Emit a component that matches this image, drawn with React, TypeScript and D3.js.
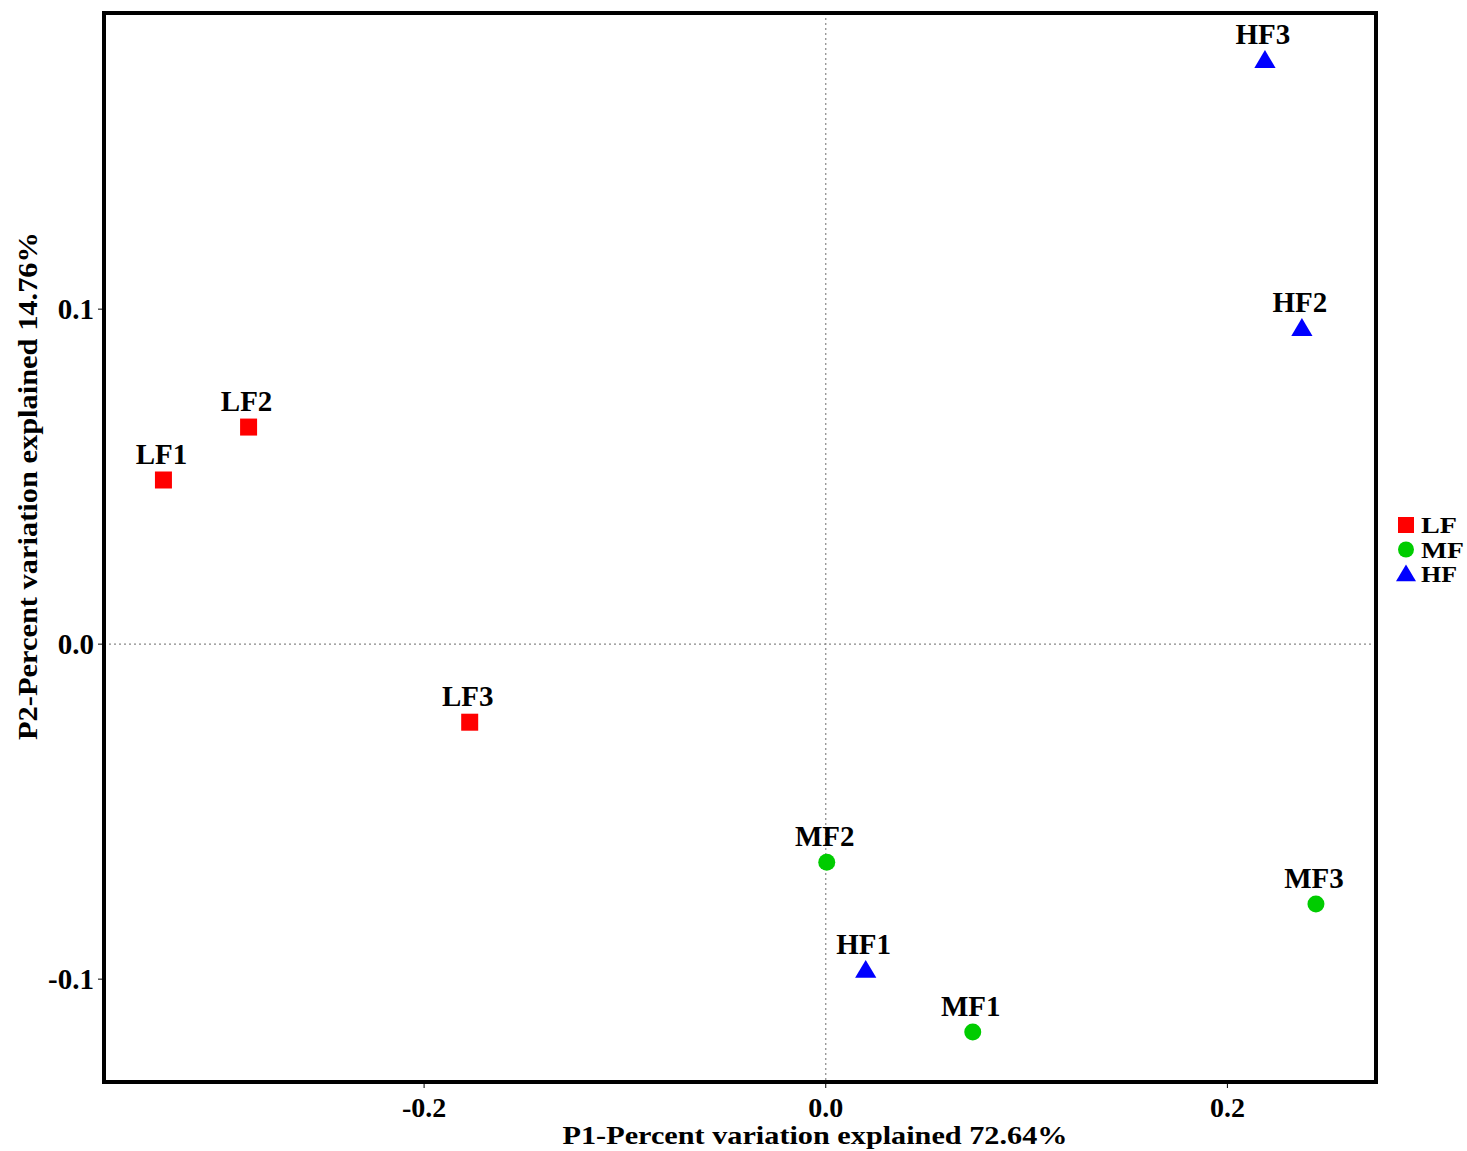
import React from "react";
import * as d3 from "d3";

const sampleNames = ["LF1", "LF2", "LF3", "MF1", "MF2", "MF3", "HF1", "HF2", "HF3"];
const groupOf = ["LF", "LF", "LF", "MF", "MF", "MF", "HF", "HF", "HF"];
const p1Values = [-0.3298, -0.2874, -0.1773, 0.0732, 0.0005, 0.2441, 0.0199, 0.2371, 0.2187];
const p2Values = [0.049, 0.0648, -0.0233, -0.1158, -0.0651, -0.0776, -0.0973, 0.0943, 0.1743];

const groups = ["LF", "MF", "HF"];
const groupColors = ["#ff0000", "#00cc00", "#0000ff"];
const xTicks = [-0.2, 0.0, 0.2];
const yTicks = [-0.1, 0.0, 0.1];

const W = 1467;
const H = 1151;
const left = 104;
const right = 1376;
const top = 13;
const bottom = 1082;

const font = "'Liberation Serif', 'Times New Roman', serif";

const Marker = ({ group, x, y, size }: { group: string; x: number; y: number; size: number }) => {
  const color = groupColors[groups.indexOf(group)];
  if (group === "LF") {
    return <rect x={x - size / 2} y={y - size / 2} width={size} height={size} fill={color} />;
  }
  if (group === "MF") {
    return <circle cx={x} cy={y} r={size / 2} fill={color} />;
  }
  const h = size * 1.0;
  const w = size * 1.25;
  return (
    <path
      d={`M${x},${y - h * 0.6} L${x + w / 2},${y + h * 0.45} L${x - w / 2},${y + h * 0.45} Z`}
      fill={color}
    />
  );
};

const App = () => {
  const x = d3.scaleLinear().domain([-0.3594, 0.274]).range([left, right]);
  const y = d3.scaleLinear().domain([-0.1307, 0.1884]).range([bottom, top]);
  // hyphen instead of unicode minus, as in the figure
  const fmt = (v: number) => d3.format(".1f")(v).replace("\u2212", "-");

  return (
    <svg width={W} height={H} style={{ display: "block", position: "absolute", top: 0, left: 0 }}>
      <rect width={W} height={H} fill="#fff" />
      {/* zero lines */}
      <line x1={x(0)} x2={x(0)} y1={top} y2={bottom} stroke="#888" strokeWidth={1.2} strokeDasharray="2,3" />
      <line x1={left} x2={right} y1={y(0)} y2={y(0)} stroke="#888" strokeWidth={1.2} strokeDasharray="2,3" />

      {/* frame */}
      <rect x={left} y={top} width={right - left} height={bottom - top} fill="none" stroke="#000" strokeWidth={4} />

      {/* x ticks */}
      {xTicks.map((t) => (
        <g key={"x" + t}>
          <line x1={x(t)} x2={x(t)} y1={bottom} y2={bottom + 6} stroke="#000" strokeWidth={1} />
          <text
            x={x(t)}
            y={bottom + 35}
            textAnchor="middle"
            fontFamily={font}
            fontWeight="bold"
            fontSize={28}
          >
            {fmt(t)}
          </text>
        </g>
      ))}
      {/* y ticks */}
      {yTicks.map((t) => (
        <g key={"y" + t}>
          <line x1={left - 6} x2={left} y1={y(t)} y2={y(t)} stroke="#000" strokeWidth={1} />
          <text
            x={left - 10}
            y={y(t)}
            dy="0.35em"
            textAnchor="end"
            fontFamily={font}
            fontWeight="bold"
            fontSize={29}
          >
            {fmt(t)}
          </text>
        </g>
      ))}

      {/* axis titles */}
      <text
        x={815}
        y={1144}
        textAnchor="middle"
        fontFamily={font}
        fontWeight="bold"
        fontSize={26}
        textLength={505}
        lengthAdjust="spacingAndGlyphs"
      >
        P1-Percent variation explained 72.64%
      </text>
      <text
        transform={`translate(37,486) rotate(-90)`}
        textAnchor="middle"
        fontFamily={font}
        fontWeight="bold"
        fontSize={27}
        textLength={508}
        lengthAdjust="spacingAndGlyphs"
      >
        P2-Percent variation explained 14.76%
      </text>

      {/* points */}
      {sampleNames.map((name, i) => {
        const px = x(p1Values[i]);
        const py = y(p2Values[i]);
        return (
          <g key={name}>
            <Marker group={groupOf[i]} x={px} y={py} size={17} />
            <text
              x={px - 2}
              y={py - 16}
              textAnchor="middle"
              fontFamily={font}
              fontWeight="bold"
              fontSize={29}
            >
              {name}
            </text>
          </g>
        );
      })}

      {/* legend */}
      {groups.map((g, i) => (
        <g key={g}>
          <Marker group={g} x={1406} y={525 + i * 24.5} size={16} />
          <text x={1421} y={525 + i * 24.5} dy="0.36em" fontFamily={font} fontWeight="bold" fontSize={23}
            textLength={g === "MF" ? 43 : 36} lengthAdjust="spacingAndGlyphs">
            {g}
          </text>
        </g>
      ))}
    </svg>
  );
};

export default App;
